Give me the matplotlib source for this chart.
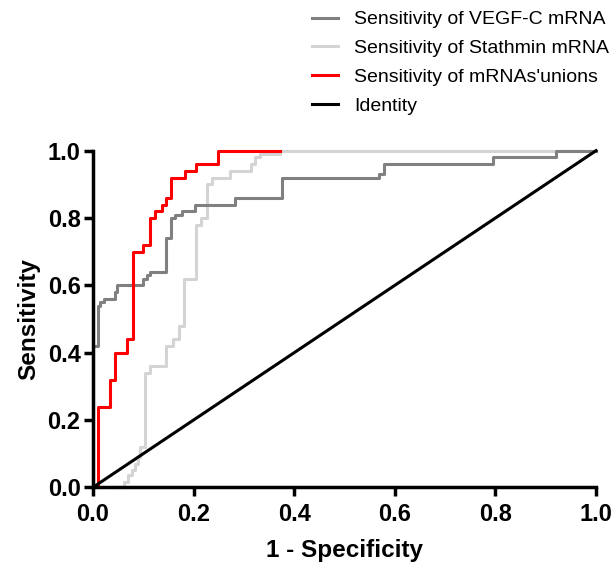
import matplotlib
matplotlib.use("Agg")
import matplotlib.pyplot as plt
from matplotlib.lines import Line2D

plt.rcParams['font.family'] = ['Liberation Sans', 'DejaVu Sans']

# ROC corner points (1 - specificity, sensitivity)
vegf_x = [0.0, 0.0, 0.009, 0.014, 0.022, 0.044, 0.048, 0.100, 0.108, 0.113, 0.146, 0.155,
          0.163, 0.176, 0.203, 0.282, 0.375, 0.569, 0.579, 0.796, 0.920, 1.0]
vegf_y = [0.0, 0.42, 0.54, 0.55, 0.56, 0.58, 0.60, 0.62, 0.63, 0.64, 0.74, 0.80,
          0.81, 0.82, 0.84, 0.86, 0.92, 0.93, 0.96, 0.98, 1.0, 1.0]

stath_x = [0.054, 0.061, 0.070, 0.077, 0.083, 0.090, 0.094, 0.103, 0.113, 0.146, 0.160,
           0.170, 0.181, 0.205, 0.214, 0.226, 0.236, 0.272, 0.315, 0.322, 0.332, 0.372, 1.0]
stath_y = [0.0, 0.017, 0.037, 0.05, 0.07, 0.09, 0.12, 0.34, 0.36, 0.42, 0.44,
           0.48, 0.62, 0.78, 0.80, 0.90, 0.92, 0.94, 0.96, 0.98, 0.99, 1.0, 1.0]

union_x = [0.005, 0.010, 0.034, 0.044, 0.067, 0.079, 0.100, 0.113, 0.123, 0.137, 0.145,
           0.156, 0.183, 0.204, 0.249, 0.372]
union_y = [0.0, 0.24, 0.32, 0.40, 0.44, 0.70, 0.72, 0.80, 0.82, 0.84, 0.86,
           0.92, 0.94, 0.96, 1.0, 1.0]

ident_x = [0.0, 1.0]
ident_y = [0.0, 1.0]

labels = ["Sensitivity of VEGF-C mRNA", "Sensitivity of Stathmin mRNA",
          "Sensitivity of mRNAs'unions", "Identity"]
colors = ["#808080", "#d4d4d4", "#ff0000", "#000000"]

fig = plt.figure(figsize=(6.14, 5.62), dpi=100)
ax = fig.add_axes([0.1515, 0.1329, 0.8192, 0.599])

lw = 2.2
ax.plot(stath_x, stath_y, drawstyle="steps-post", color=colors[1], lw=lw, clip_on=False)
ax.plot(vegf_x, vegf_y, drawstyle="steps-post", color=colors[0], lw=lw, clip_on=False)
ax.plot(union_x, union_y, drawstyle="steps-post", color=colors[2], lw=lw, clip_on=False)
ax.plot(ident_x, ident_y, color=colors[3], lw=lw, clip_on=False)

ax.set_xlim(0, 1)
ax.set_ylim(0, 1)
ax.set_xticks([0, 0.2, 0.4, 0.6, 0.8, 1.0])
ax.set_yticks([0, 0.2, 0.4, 0.6, 0.8, 1.0])
ax.set_xticklabels(["0.0", "0.2", "0.4", "0.6", "0.8", "1.0"])
ax.set_yticklabels(["0.0", "0.2", "0.4", "0.6", "0.8", "1.0"])

for side in ["top", "right"]:
    ax.spines[side].set_visible(False)
for side in ["left", "bottom"]:
    ax.spines[side].set_linewidth(2.5)
ax.tick_params(width=2.5, length=6.5, labelsize=17)
ax.tick_params(axis="y", pad=2.5)
ax.tick_params(axis="x", pad=5)
for t in ax.get_xticklabels() + ax.get_yticklabels():
    t.set_fontweight("bold")

ax.set_xlabel("1 - Specificity", fontsize=17.5, fontweight="bold", labelpad=9)
ax.set_ylabel("Sensitivity", fontsize=17.5, fontweight="bold", labelpad=5)

handles = [Line2D([], [], color=c, lw=2.2) for c in colors]
fig.legend(handles, labels, loc="upper left", bbox_to_anchor=(0.48, 1.012),
           frameon=False, fontsize=14, handlelength=1.35, handletextpad=0.8,
           labelspacing=0.58)

fig.savefig("out.png", dpi=100)
